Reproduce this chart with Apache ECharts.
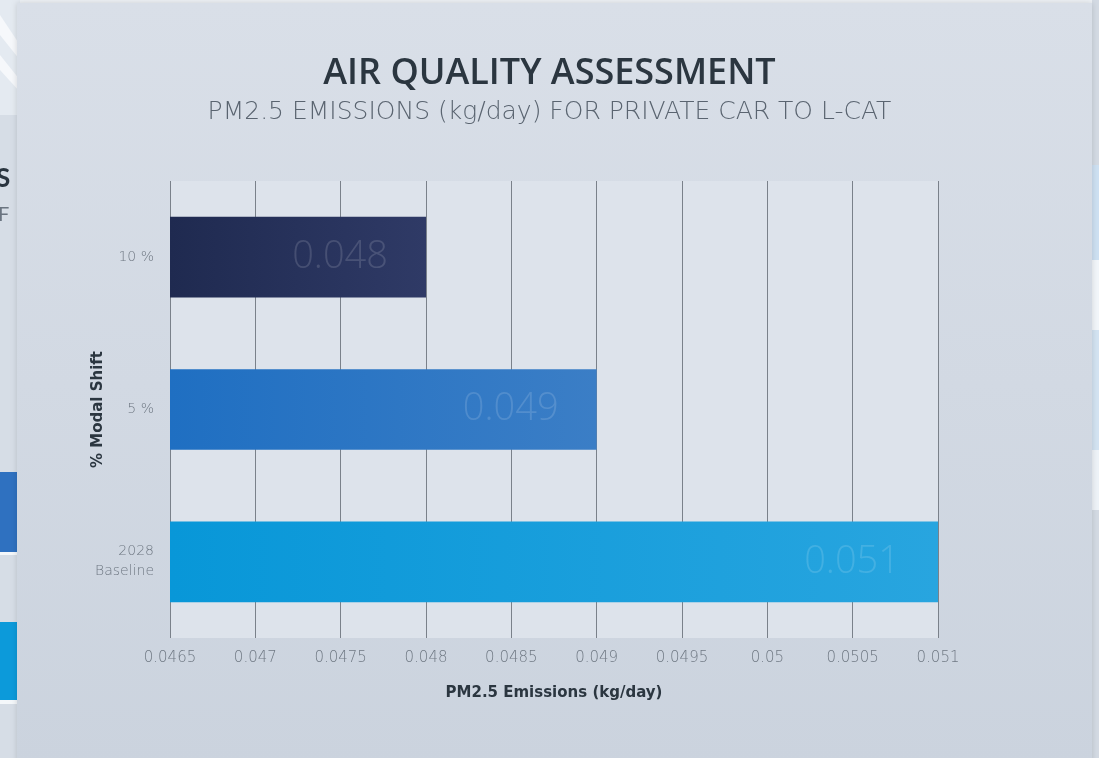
<!DOCTYPE html>
<html>
<head>
<meta charset="utf-8">
<script src="https://cdn.jsdelivr.net/npm/echarts@6/dist/echarts.min.js"></script>
<style>
html,body{margin:0;padding:0;background:#eef2f6;}
#chart{width:1099px;height:758px;}
</style>
</head>
<body>
<div id="chart"></div>
<script>
var categories = ['2028\nBaseline', '5 %', '10 %'];
var values = [0.051, 0.049, 0.048];
var barColors = [
  ['#0897d8', '#28a5df'],
  ['#1f6fc2', '#3b7ec6'],
  ['#1f2a50', '#2f3a66']
];
var xTicks = { min: 0.0465, max: 0.051, interval: 0.0005 };

var chart = echarts.init(document.getElementById('chart'));
var data = values.map(function (v, i) {
  return {
    value: v,
    itemStyle: {
      color: new echarts.graphic.LinearGradient(0, 0, 1, 0, [
        { offset: 0, color: barColors[i][0] },
        { offset: 1, color: barColors[i][1] }
      ])
    }
  };
});

chart.setOption({
  backgroundColor: '#eef2f6',
  graphic: [
    // background slide remnants on the left
    { type: 'rect', left: 0, top: 0, shape: { width: 20, height: 758 }, style: { fill: '#d6dde6' }, z: -10 },
    { type: 'rect', left: 0, top: 0, shape: { width: 20, height: 115 }, style: { fill: '#e4eaf1' }, z: -9 },
    { type: 'polygon', shape: { points: [[0, 15], [20, 45], [20, 60], [0, 35]] }, style: { fill: '#f6f8fb' }, z: -8 },
    { type: 'polygon', shape: { points: [[0, 55], [20, 80], [20, 92], [0, 70]] }, style: { fill: '#f6f8fb' }, z: -8 },
    { type: 'rect', left: 0, top: 472, shape: { width: 20, height: 80 }, style: { fill: '#2f71c0' }, z: -8 },
    { type: 'rect', left: 0, top: 552, shape: { width: 20, height: 3 }, style: { fill: '#f4f7fa' }, z: -8 },
    { type: 'rect', left: 0, top: 622, shape: { width: 20, height: 78 }, style: { fill: '#0c9ada' }, z: -8 },
    { type: 'rect', left: 0, top: 700, shape: { width: 20, height: 4 }, style: { fill: '#f4f7fa' }, z: -8 },
    { type: 'text', left: -4, top: 166, style: { text: 'S', fill: '#2a3540', font: 'bold 26px Lato' }, z: -7 },
    { type: 'text', left: -2, top: 205, style: { text: 'F', fill: '#6a7480', font: '20px Lato' }, z: -7 },
    // right strip
    { type: 'rect', left: 1092, top: 0, shape: { width: 7, height: 758 }, style: { fill: '#d3dae3' }, z: -10 },
    { type: 'rect', left: 1092, top: 165, shape: { width: 7, height: 95 }, style: { fill: '#cde0f2' }, z: -9 },
    { type: 'rect', left: 1092, top: 260, shape: { width: 7, height: 70 }, style: { fill: '#f2f6fa' }, z: -9 },
    { type: 'rect', left: 1092, top: 330, shape: { width: 7, height: 120 }, style: { fill: '#d3e3f2' }, z: -9 },
    { type: 'rect', left: 1092, top: 450, shape: { width: 7, height: 60 }, style: { fill: '#eef3f8' }, z: -9 },
    // main panel
    { type: 'rect', left: 17, top: 3, shape: { width: 1075, height: 760 },
      style: { fill: new echarts.graphic.LinearGradient(0, 0, 0, 1, [
        { offset: 0, color: '#d9dfe8' }, { offset: 1, color: '#cbd3de' }
      ]), shadowBlur: 6, shadowColor: 'rgba(0,0,0,0.15)' }, z: -5 }
  ],
  title: {
    text: 'AIR QUALITY ASSESSMENT',
    subtext: 'PM2.5 EMISSIONS (kg/day) FOR PRIVATE CAR TO L-CAT',
    left: 'center',
    top: 51,
    itemGap: 8,
    textStyle: { fontFamily: 'Open Sans', fontSize: 36, fontWeight: 600, color: '#2b3640' },
    subtextStyle: { fontFamily: 'DejaVu Sans', fontSize: 25, fontWeight: 200, color: '#5a6470' }
  },
  grid: {
    left: 170, right: 161, top: 181, bottom: 120,
    show: true, backgroundColor: '#dde3eb', borderWidth: 0
  },
  xAxis: {
    type: 'value',
    min: xTicks.min, max: xTicks.max, interval: xTicks.interval,
    name: 'PM2.5 Emissions (kg/day)',
    nameLocation: 'middle',
    nameGap: 48,
    nameTextStyle: { fontFamily: 'DejaVu Sans', fontWeight: 'bold', fontSize: 15, color: '#2b3640' },
    axisLine: { show: false },
    axisTick: { show: false },
    axisLabel: { fontFamily: 'DejaVu Sans', fontWeight: 200, fontSize: 15, color: '#6f7883', margin: 13 },
    splitLine: { show: true, lineStyle: { color: '#7a818a', width: 1 } }
  },
  yAxis: {
    type: 'category',
    data: categories,
    name: '% Modal Shift',
    nameLocation: 'middle',
    nameGap: 64,
    nameRotate: 90,
    nameMoveOverlap: false,
    nameTextStyle: { fontFamily: 'DejaVu Sans', fontWeight: 'bold', fontSize: 15, color: '#2b3640' },
    axisLine: { show: false },
    axisTick: { show: false },
    axisLabel: { fontFamily: 'DejaVu Sans', fontWeight: 200, fontSize: 14, color: '#6f7883', margin: 16, lineHeight: 20, align: 'right' },
    splitLine: { show: false }
  },
  series: [{
    type: 'bar',
    data: data,
    barWidth: '53%',
    label: {
      show: true,
      position: 'insideRight',
      distance: 38,
      fontFamily: 'Open Sans',
      fontWeight: 300,
      fontSize: 38,
      color: 'rgba(255,255,255,0.14)',
      formatter: function (p) { return p.value.toFixed(3); }
    }
  }]
});
</script>
</body>
</html>
